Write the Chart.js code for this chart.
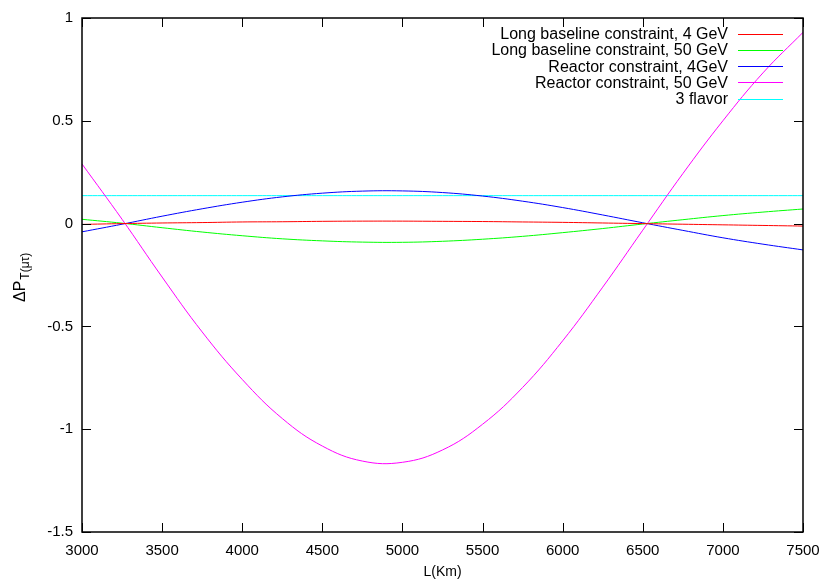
<!DOCTYPE html>
<html><head><meta charset="utf-8">
<script src="https://cdn.jsdelivr.net/npm/chart.js@4.4.1/dist/chart.umd.min.js"></script>
<style>html,body{margin:0;padding:0;background:#fff}#wrap{width:830px;height:581px}</style>
</head><body><div id="wrap"><canvas id="c"></canvas></div>
<script>
const distances = [3000,3250,3500,3750,4000,4250,4500,4750,5000,5250,5500,5750,6000,6250,6500,6750,7000,7250,7500];
const longBaseline4 = [-0.004,0.000,0.003,0.005,0.008,0.009,0.011,0.012,0.012,0.011,0.010,0.008,0.006,0.003,0.000,-0.003,-0.006,-0.009,-0.012];
const longBaseline50 = [0.021,0.002,-0.020,-0.041,-0.059,-0.074,-0.084,-0.090,-0.091,-0.086,-0.076,-0.062,-0.044,-0.024,-0.002,0.019,0.039,0.056,0.071];
const reactor4 = [-0.040,-0.003,0.036,0.072,0.104,0.130,0.148,0.158,0.159,0.151,0.134,0.109,0.078,0.042,0.004,-0.033,-0.069,-0.100,-0.128];
const reactor50 = [0.29,0.021,-0.26,-0.527,-0.758,-0.948,-1.082,-1.155,-1.161,-1.101,-0.976,-0.797,-0.570,-0.309,-0.032,0.243,0.50,0.733,0.93];
const threeFlavor = [0.136,0.136,0.136,0.136,0.136,0.136,0.136,0.136,0.136,0.136,0.136,0.136,0.136,0.136,0.136,0.136,0.136,0.136,0.136];
const seriesLabels = ["Long baseline constraint, 4 GeV","Long baseline constraint, 50 GeV","Reactor constraint, 4GeV","Reactor constraint, 50 GeV","3 flavor"];
const seriesColors = ["#ff0000","#00ff00","#0000ff","#ff00ff","#00ffff"];
const xTicks = [3000,3500,4000,4500,5000,5500,6000,6500,7000,7500];
const yTicks = [-1.5,-1,-0.5,0,0.5,1];

const FONT = "'Liberation Sans', Arial, Helvetica, sans-serif";
const allSeries = [longBaseline4,longBaseline50,reactor4,reactor50,threeFlavor];
const datasets = allSeries.map((vals,i)=>({
  label: seriesLabels[i],
  data: distances.map((d,j)=>({x:d,y:vals[j]})),
  borderColor: seriesColors[i],
  borderWidth: 1,
  pointRadius: 0,
  tension: 0.4,
  fill: false
}));

const framePlugin = {
  id:'frame',
  afterDatasetsDraw(chart){
    const {ctx, chartArea:a, scales:{x,y}} = chart;
    ctx.save();
    ctx.strokeStyle = '#000';
    ctx.lineWidth = 1;
    const tl = 9;
    ctx.beginPath();
    xTicks.forEach(v=>{
      const px = Math.round(x.getPixelForValue(v))+0.5;
      ctx.moveTo(px,a.bottom); ctx.lineTo(px,a.bottom-tl);
      ctx.moveTo(px,a.top); ctx.lineTo(px,a.top+tl);
    });
    yTicks.forEach(v=>{
      const py = Math.round(y.getPixelForValue(v))+0.5;
      ctx.moveTo(a.left,py); ctx.lineTo(a.left+tl,py);
      ctx.moveTo(a.right,py); ctx.lineTo(a.right-tl,py);
    });
    ctx.stroke();
    ctx.lineWidth = 1.5;
    ctx.strokeRect(a.left, a.top, a.right-a.left, a.bottom-a.top);
    // legend
    ctx.font = '16px ' + FONT;
    ctx.textAlign = 'right';
    ctx.textBaseline = 'middle';
    const rowY = [34,50,66.3,82.3,98.5];
    seriesLabels.forEach((lab,i)=>{
      ctx.fillStyle = '#000';
      ctx.fillText(lab, 728, rowY[i]+1);
      ctx.strokeStyle = seriesColors[i];
      ctx.lineWidth = 1;
      ctx.beginPath();
      ctx.moveTo(738, Math.round(rowY[i])+0.5);
      ctx.lineTo(783, Math.round(rowY[i])+0.5);
      ctx.stroke();
    });
    // y axis title with subscript
    ctx.save();
    ctx.translate(25, 302);
    ctx.rotate(-Math.PI/2);
    ctx.textAlign = 'left';
    ctx.textBaseline = 'alphabetic';
    ctx.fillStyle = '#000';
    ctx.font = '16px ' + FONT;
    const main = '\u0394P';
    ctx.fillText(main, 0, 0);
    const w = ctx.measureText(main).width;
    ctx.font = '12px ' + FONT;
    ctx.fillText('T(\u03bc\u03c4)', w+1, 4);
    ctx.restore();
    ctx.restore();
  }
};

new Chart(document.getElementById('c'), {
  type:'line',
  data:{datasets},
  options:{
    responsive:true, maintainAspectRatio:false, animation:false,
    layout:{padding:{left:0,right:27,top:18,bottom:0}},
    plugins:{legend:{display:false}, tooltip:{enabled:false}},
    scales:{
      x:{type:'linear', min:3000, max:7500,
        afterBuildTicks(s){ s.ticks = xTicks.map(v=>({value:v})); },
        afterFit(s){ s.height = 49; },
        grid:{display:false, drawTicks:false}, border:{display:false},
        ticks:{color:'#000', padding:10, maxRotation:0, font:{family:FONT,size:15}, callback:v=>String(v)},
        title:{display:true, text:'L(Km)', color:'#000', font:{family:FONT,size:14}, padding:{top:2,bottom:0}}
      },
      y:{type:'linear', min:-1.5, max:1,
        afterBuildTicks(s){ s.ticks = yTicks.map(v=>({value:v})); },
        afterFit(s){ s.width = 82; },
        grid:{display:false, drawTicks:false}, border:{display:false},
        ticks:{color:'#000', padding:9, font:{family:FONT,size:15}, callback:v=>String(v)}
      }
    }
  },
  plugins:[framePlugin]
});
</script></body></html>
